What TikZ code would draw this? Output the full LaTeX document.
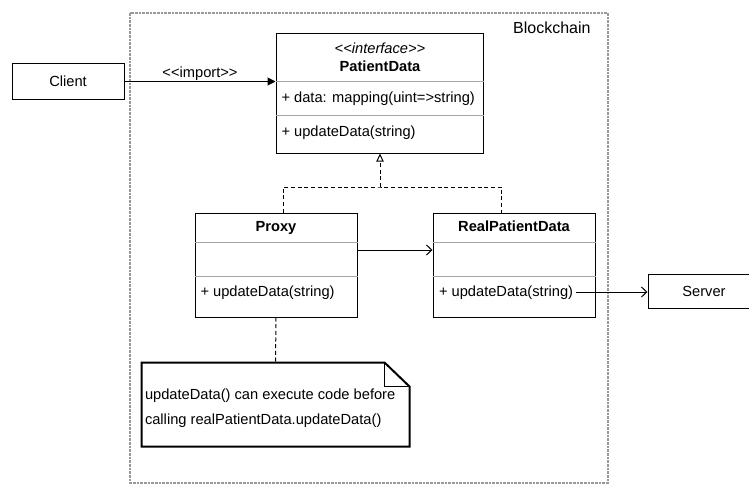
\documentclass[tikz,border=0pt]{standalone}
\usepackage{fontspec}
\setmainfont{Liberation Sans}
\usetikzlibrary{arrows.meta}

\tikzset{every picture/.style={line width=0.75pt}}
\tikzset{
  umlclass/.style={draw, fill=white, inner sep=0pt, minimum width=121.5pt, minimum height=78pt},
  plainbox/.style={draw, fill=white, inner sep=0pt, minimum width=84pt},
  divider/.style={draw=black!35},
  frame/.style={draw=black!40, line width=1.2pt, dash pattern=on 2pt off 0.75pt},
  realize/.style={dash pattern=on 3pt off 2pt},
  openhead/.style={-{Straight Barb[length=4pt,width=7.5pt]}},
  title/.style={anchor=base, inner sep=0pt, font=\fontsize{11}{13}\selectfont\bfseries},
  member/.style={anchor=west, inner sep=0pt},
}

\begin{document}
\begin{tikzpicture}[x=0.75pt,y=0.75pt,yscale=-1,xscale=1, font=\fontsize{11}{13}\selectfont]
\useasboundingbox (0,0) rectangle (749,485);

%Shape: Frame
\draw [frame] (130,13) rectangle (608,483);
% Text Node
\draw (591,28) node (blockchain) [anchor=east, inner sep=0pt, font=\fontsize{12}{14}\selectfont] {Blockchain};

%Shape: Class boxes
\node (pd) [umlclass, minimum width=155.25pt, minimum height=89.25pt] at (379.5,93.5) {};
\node (proxy) [umlclass] at (276,265) {};
\node (real) [umlclass] at (514,265) {};
\node (client) [plainbox, minimum height=26.25pt] at (68,81.5) {Client};
\node (server) [plainbox, minimum height=25.5pt] at (704,291) {Server};

%Shape: dividers (y runs down, so shifts down are positive)
\draw [divider] ([yshift=36pt]pd.north west) -- ([yshift=36pt]pd.north east);
\draw [divider] ([yshift=61.5pt]pd.north west) -- ([yshift=61.5pt]pd.north east);
\foreach \cls in {proxy,real} {
  \draw [divider] ([yshift=22.5pt]\cls.north west) -- ([yshift=22.5pt]\cls.north east);
  \draw [divider] ([yshift=48pt]\cls.north west) -- ([yshift=48pt]\cls.north east);
}

% Text Node
\draw (380,54) node (pdstereo) [anchor=base, inner sep=0pt, font=\fontsize{11}{13}\selectfont\itshape] {<{}<interface>{}>};
\draw (380,71.5) node (pdname) [title] {PatientData};
\draw (281,99) node (pddata) [member] {+ data: mapping(uint=>string)};
\draw (281,133) node (pdupdate) [member] {+ updateData(string)};
\draw (276,231.5) node (proxyname) [title] {Proxy};
\draw (200,293) node (proxyupdate) [member] {+ updateData(string)};
\draw (514,231.5) node (realname) [title] {RealPatientData};
\draw (438.5,293) node (realupdate) [member] {+ updateData(string)};

%Shape: import
\draw [-{Triangle[length=6pt,width=6pt]}] (client.east) -- (client.east -| pd.west)
  node [midway, above, inner sep=0pt] (importlabel) {<{}<import>{}>};

%Shape: realization
\coordinate (bar) at (380,187);
\draw [realize] ([xshift=5.25pt]proxy.north) |- (bar) -| ([xshift=-9.25pt]real.north);
\draw [realize, -{Triangle[open, length=6pt, width=5.5pt]}] (bar) -- (pd.south -| bar);

%Shape: association
\draw [openhead] ([yshift=-11.25pt]proxy.east) -- ([yshift=-11.25pt]real.west);
\coordinate (call) at (576,292);
\draw [openhead] (call) -- (call -| server.west);

%Shape: note
\node (note) [minimum width=200.25pt, minimum height=62.25pt, inner sep=0pt] at (275.5,404.5) {};
\draw [line width=1.5pt] (note.north west) -- ([xshift=-18.75pt]note.north east) -- ([yshift=18pt]note.north east) -- (note.south east) -- (note.south west) -- cycle;
\draw ([xshift=-18.75pt]note.north east) |- ([yshift=18pt]note.north east);
% Text Node
\draw (144.5,396) node (notetop) [member] {updateData() can execute code before};
\draw (144.5,421) node (notebottom) [member] {calling realPatientData.updateData()};
\draw [realize] (proxy.south) -- (note.north);

\end{tikzpicture}
\end{document}
